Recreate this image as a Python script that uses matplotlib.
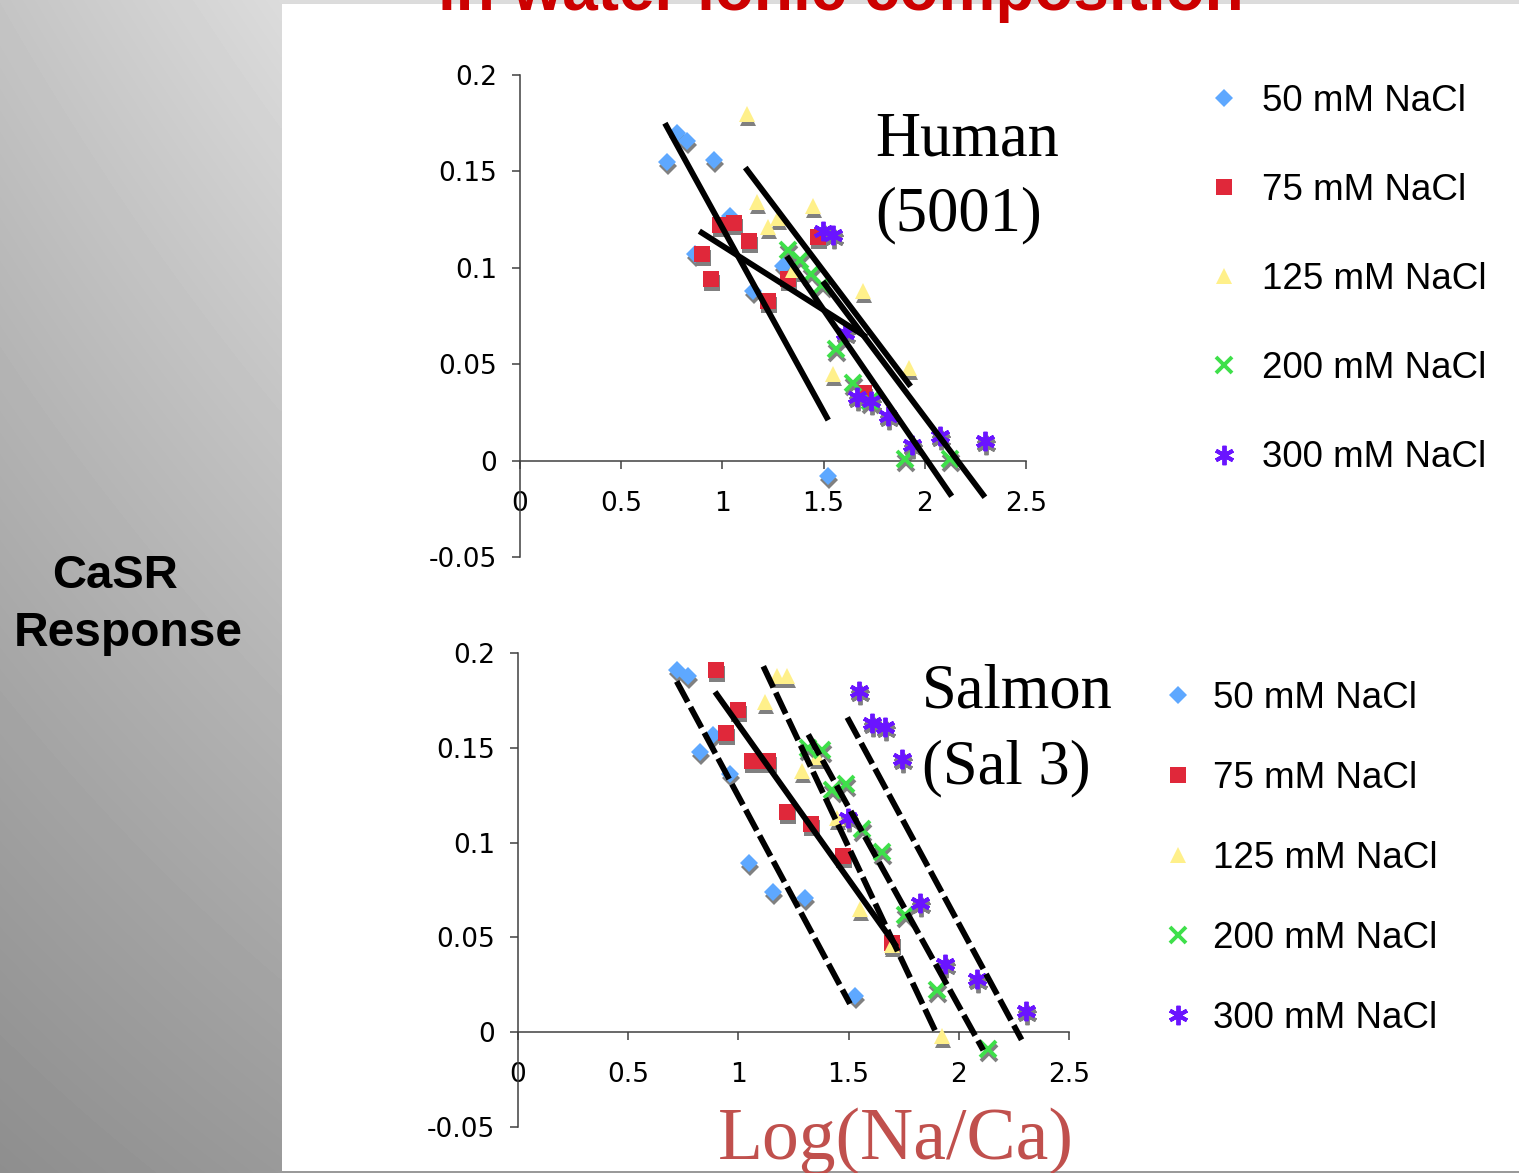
import numpy as np
import matplotlib
matplotlib.use('Agg')
import matplotlib.pyplot as plt
from matplotlib.patches import Rectangle
from matplotlib.transforms import offset_copy

# ---- data ----
labels = ['50 mM NaCl', '75 mM NaCl', '125 mM NaCl', '200 mM NaCl', '300 mM NaCl']

# Human (5001)
h_x50 = [0.725, 0.774, 0.824, 0.958, 1.04, 0.865, 1.15, 1.30, 1.523]
h_y50 = [0.155, 0.170, 0.166, 0.156, 0.127, 0.107, 0.088, 0.101, -0.008]
h_x75 = [0.898, 0.942, 0.988, 1.059, 1.133, 1.224, 1.326, 1.474, 1.70]
h_y75 = [0.107, 0.094, 0.122, 0.123, 0.114, 0.083, 0.094, 0.116, 0.035]
h_x125 = [1.120, 1.169, 1.224, 1.276, 1.446, 1.350, 1.696, 1.548, 1.923]
h_y125 = [0.180, 0.134, 0.121, 0.126, 0.132, 0.099, 0.088, 0.045, 0.048]
h_x200 = [1.326, 1.383, 1.436, 1.491, 1.561, 1.647, 1.729, 1.902, 2.125]
h_y200 = [0.109, 0.104, 0.097, 0.091, 0.058, 0.040, 0.031, 0.001, 0.001]
h_x300 = [1.496, 1.545, 1.606, 1.663, 1.733, 1.820, 1.935, 2.075, 2.297]
h_y300 = [0.119, 0.117, 0.066, 0.033, 0.031, 0.023, 0.008, 0.013, 0.010]

# trend lines: start x, start y, end x, end y
h_fit_x0 = [0.716, 0.886, 1.113, 1.318, 1.496]
h_fit_y0 = [0.175, 0.119, 0.152, 0.106, 0.093]
h_fit_x1 = [1.523, 1.712, 1.930, 2.133, 2.297]
h_fit_y1 = [0.021, 0.064, 0.0385, -0.0185, -0.019]

# Salmon (Sal 3)
s_x50 = [0.720, 0.773, 0.826, 0.886, 0.962, 1.049, 1.158, 1.302, 1.529]
s_y50 = [0.191, 0.188, 0.148, 0.157, 0.136, 0.089, 0.074, 0.071, 0.019]
s_x75 = [0.898, 0.999, 0.944, 1.060, 1.136, 1.222, 1.329, 1.476, 1.698]
s_y75 = [0.191, 0.170, 0.158, 0.143, 0.143, 0.116, 0.110, 0.093, 0.047]
s_x125 = [1.174, 1.219, 1.121, 1.287, 1.355, 1.446, 1.552, 1.698, 1.922]
s_y125 = [0.188, 0.188, 0.174, 0.138, 0.145, 0.113, 0.065, 0.046, -0.002]
s_x200 = [1.316, 1.379, 1.423, 1.488, 1.559, 1.650, 1.756, 1.900, 2.132]
s_y200 = [0.150, 0.149, 0.128, 0.131, 0.107, 0.095, 0.062, 0.022, -0.009]
s_x300 = [1.549, 1.605, 1.665, 1.741, 1.499, 1.824, 1.937, 2.081, 2.305]
s_y300 = [0.180, 0.163, 0.161, 0.144, 0.113, 0.068, 0.036, 0.028, 0.011]

s_fit_x0 = [0.720, 0.894, 1.113, 1.317, 1.494]
s_fit_y0 = [0.185, 0.1795, 0.193, 0.157, 0.166]
s_fit_x1 = [1.506, 1.718, 1.900, 2.111, 2.285]
s_fit_y1 = [0.015, 0.045, -0.001, -0.0095, -0.004]

xticks = [0, 0.5, 1, 1.5, 2, 2.5]
xticklabels = ['0', '0.5', '1', '1.5', '2', '2.5']
yticks = [-0.05, 0, 0.05, 0.1, 0.15, 0.2]
yticklabels = ['-0.05', '0', '0.05', '0.1', '0.15', '0.2']

# ---- styles ----
markers = ['D', 's', '^', 'x', (6, 2, 0)]
colors = ['#5ea8ff', '#e0283a', '#fff08a', '#3ee04a', '#6a14ff']
msizes = [9.5, 11.5, 12, 11.5, 14]
h_fit_ls = ['-', '-', '-', '-', '-']
s_fit_ls = [(0, (4, 1)), '-', (0, (4, 1)), (0, (4, 1)), (0, (4, 1))]

W, H = 1519, 1173
fig = plt.figure(figsize=(W / 100, H / 100), dpi=100)

# slide background: grey gradient panel + white content area
bg = fig.add_axes([0, 0, 1, 1], zorder=-10)
bg.set_axis_off()
xf = np.clip(np.arange(W) / 280.0, 0, 1)
yf = np.arange(H) / (H - 1)
top = 0.77 + 0.09 * xf
bot = 0.557 + 0.045 * xf
grad = top[None, :] * (1 - yf[:, None]) + bot[None, :] * yf[:, None]
bg.imshow(grad, cmap='gray', vmin=0, vmax=1, aspect='auto', extent=[0, 1, 0, 1], origin='upper')
bg.add_patch(Rectangle((282 / W, 2 / H), 1 - 282 / W, (H - 6) / H, color='white', lw=0))
bg.set_xlim(0, 1)
bg.set_ylim(0, 1)


def draw_panel(ax, xs, ys, fx0, fy0, fx1, fy1, fit_ls):
    shadow = offset_copy(ax.transData, fig=fig, x=1, y=-4, units='dots')
    handles = []
    for x, y, m, c, s, lab in zip(xs, ys, markers, colors, msizes, labels):
        filled = m in ('D', 's', '^')
        mew = 0 if filled else 2.8
        ax.plot(x, y, ls='none', marker=m, ms=s, color='#808080', mec='#808080',
                mew=mew, transform=shadow, zorder=2, clip_on=False)
        ln, = ax.plot(x, y, ls='none', marker=m, ms=s, color=c, mec=c, mew=mew,
                      zorder=3, label=lab, clip_on=False)
        handles.append(ln)
    for a, b, c, d, ls in zip(fx0, fy0, fx1, fy1, fit_ls):
        ax.plot([a, c], [b, d], color='black', lw=4.2, ls=ls, zorder=4,
                solid_capstyle='butt', dash_capstyle='butt')

    ax.set_xlim(0, 2.5)
    ax.set_ylim(-0.05, 0.2)
    ax.patch.set_alpha(0)
    for side in ('top', 'right'):
        ax.spines[side].set_visible(False)
    ax.spines['bottom'].set_position(('data', 0))
    for side in ('bottom', 'left'):
        ax.spines[side].set_color('#404040')
        ax.spines[side].set_linewidth(1.1)
    ax.set_xticks(xticks)
    ax.set_xticklabels(xticklabels)
    ax.set_yticks(yticks)
    ax.set_yticklabels(yticklabels)
    ax.tick_params(direction='out', length=5.8, width=1.1, color='#404040',
                   labelsize=19, labelcolor='black')
    ax.tick_params(axis='x', pad=16)
    ax.tick_params(axis='y', pad=10.8)
    for t in ax.get_xticklabels() + ax.get_yticklabels():
        t.set_family('DejaVu Sans')
    return handles


ax1 = fig.add_axes([520 / W, 1 - 557 / H, (1026 - 520) / W, (557 - 75) / H])
hh = draw_panel(ax1, [h_x50, h_x75, h_x125, h_x200, h_x300],
                [h_y50, h_y75, h_y125, h_y200, h_y300],
                h_fit_x0, h_fit_y0, h_fit_x1, h_fit_y1, h_fit_ls)

ax2 = fig.add_axes([518 / W, 1 - 1127 / H, (1069 - 518) / W, (1127 - 653) / H])
sh = draw_panel(ax2, [s_x50, s_x75, s_x125, s_x200, s_x300],
                [s_y50, s_y75, s_y125, s_y200, s_y300],
                s_fit_x0, s_fit_y0, s_fit_x1, s_fit_y1, s_fit_ls)

leg_font = {'family': 'Liberation Sans', 'size': 26.5}
fig.legend(hh, labels, loc='upper left', bbox_to_anchor=(1205.6 / W, 1 - 84 / H),
           frameon=False, prop=leg_font, handlelength=1.0, handletextpad=0.53,
           labelspacing=1.47, borderpad=0, borderaxespad=0, numpoints=1)
fig.legend(sh, labels, loc='upper left', bbox_to_anchor=(1159.6 / W, 1 - 681 / H),
           frameon=False, prop=leg_font, handlelength=1.0, handletextpad=0.45,
           labelspacing=1.22, borderpad=0, borderaxespad=0, numpoints=1)

serif = 'Liberation Serif'
fig.text(875 / W, 1 - 155 / H, 'Human', family=serif, size=45, va='baseline')
fig.text(875 / W, 1 - 230 / H, '(5001)', family=serif, size=45, va='baseline')
fig.text(922 / W, 1 - 707 / H, 'Salmon', family=serif, size=45, va='baseline')
fig.text(922 / W, 1 - 783 / H, '(Sal 3)', family=serif, size=45, va='baseline')
fig.text(896 / W, 1 - 1159 / H, 'Log(Na/Ca)', family=serif, size=53, color='#c0504d',
         ha='center', va='baseline')

fig.text(115 / W, 1 - 588 / H, 'CaSR', family='Liberation Sans', weight='bold',
         size=34, ha='center', va='baseline')
fig.text(128 / W, 1 - 646 / H, 'Response', family='Liberation Sans', weight='bold',
         size=34.5, ha='center', va='baseline')

# slide title, mostly cut off at the top edge (as on the slide)
fig.text(841 / W, 1 - 10 / H, 'in water ionic composition', family='Liberation Sans',
         weight='bold', size=46, color='#cc0000', ha='center', va='baseline')

fig.savefig('out.png', dpi=100)
